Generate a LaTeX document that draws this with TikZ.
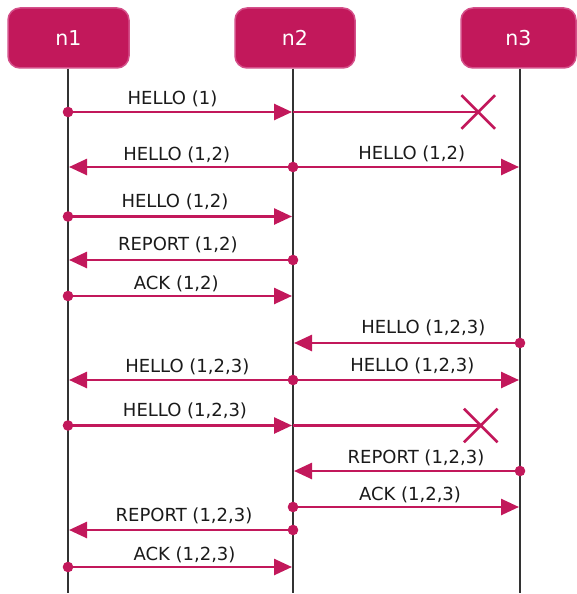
\documentclass[tikz,border=0pt]{standalone}
\usepackage{fontspec}
\setmainfont{DejaVu Sans}
\usetikzlibrary{arrows.meta,shapes.misc}
\definecolor{mag}{HTML}{C2185B}
\definecolor{magborder}{HTML}{D4508A}
\definecolor{lifecol}{HTML}{333333}
\definecolor{txt}{HTML}{1A1A1A}
\tikzset{
  actor/.style={draw=magborder, line width=1.5pt, fill=mag, rounded corners=12pt,
    minimum height=60pt, inner sep=0pt, text=white, font=\fontsize{20.5}{24}\selectfont},
  lifeline/.style={draw=lifecol, line width=1.3pt},
  msg/.style={draw=mag, line width=2.6pt, -{Triangle[length=18pt,width=16pt]}, shorten >=1pt},
  msgline/.style={draw=mag, line width=2.6pt},
  dotmark/.style={circle, fill=mag, inner sep=0pt, minimum size=10.6pt},
  lostmark/.style={cross out, draw=mag, line width=2.6pt, inner sep=0pt, minimum size=31pt},
  lbl/.style={anchor=base, inner sep=0pt, text=txt, font=\fontsize{18}{21}\selectfont}
}
\begin{document}
\begin{tikzpicture}[x=1pt,y=-1pt]
\useasboundingbox (0,0) rectangle (576,594);
% actors
\node[actor, minimum width=121pt] (n1) at (68.5,38) {n1};
\node[actor, minimum width=120pt] (n2) at (295,38) {n2};
\node[actor, minimum width=115pt] (n3) at (518.5,38) {n3};
% lifeline ends
\coordinate (e1) at (68,593);
\coordinate (e2) at (293,593);
\coordinate (e3) at (520,593);
\draw[lifeline] (n1.south -| e1) -- (e1);
\draw[lifeline] (n2.south -| e2) -- (e2);
\draw[lifeline] (n3.south -| e3) -- (e3);
% row points on lifelines
\foreach \i/\y in {1/112,2/167,3/216.5,4/260,5/296,6/343,7/380,8/425.5,9/471,10/507,11/530,12/567}{
  \coordinate (a\i) at (68,\y);
  \coordinate (b\i) at (293,\y);
  \coordinate (c\i) at (520,\y);
}
% lost-message marks
\node[lostmark] (x1) at (478.3,112) {};
\node[lostmark] (x2) at (480.7,425.5) {};

% 1
\draw[msgline] (b1) -- (x1.center);
\draw[msg] (a1) -- (b1);
\node[dotmark] (d1) at (a1) {};
\node[lbl] (l1) at (172.5,104) {HELLO (1)};
% 2
\draw[msg] (b2) -- (a2);
\draw[msg] (b2) -- (c2);
\node[dotmark] (d2) at (b2) {};
\node[lbl] (l2a) at (176.7,160) {HELLO (1,2)};
\node[lbl] (l2b) at (411.7,159.5) {HELLO (1,2)};
% 3
\draw[msg] (a3) -- (b3);
\node[dotmark] (d3) at (a3) {};
\node[lbl] (l3) at (175,207.3) {HELLO (1,2)};
% 4
\draw[msg] (b4) -- (a4);
\node[dotmark] (d4) at (b4) {};
\node[lbl] (l4) at (177.8,250.7) {REPORT (1,2)};
% 5
\draw[msg] (a5) -- (b5);
\node[dotmark] (d5) at (a5) {};
\node[lbl] (l5) at (176.3,289.3) {ACK (1,2)};
% 6
\draw[msg] (c6) -- (b6);
\node[dotmark] (d6) at (c6) {};
\node[lbl] (l6) at (423.3,333.3) {HELLO (1,2,3)};
% 7
\draw[msg] (b7) -- (a7);
\draw[msg] (b7) -- (c7);
\node[dotmark] (d7) at (b7) {};
\node[lbl] (l7a) at (187.3,372.3) {HELLO (1,2,3)};
\node[lbl] (l7b) at (412.3,371.7) {HELLO (1,2,3)};
% 8
\draw[msgline] (b8) -- (x2.center);
\draw[msg] (a8) -- (b8);
\node[dotmark] (d8) at (a8) {};
\node[lbl] (l8) at (185,416) {HELLO (1,2,3)};
% 9
\draw[msg] (c9) -- (b9);
\node[dotmark] (d9) at (c9) {};
\node[lbl] (l9) at (416,463.3) {REPORT (1,2,3)};
% 10
\draw[msg] (b10) -- (c10);
\node[dotmark] (d10) at (b10) {};
\node[lbl] (l10) at (410,500) {ACK (1,2,3)};
% 11
\draw[msg] (b11) -- (a11);
\node[dotmark] (d11) at (b11) {};
\node[lbl] (l11) at (184,521) {REPORT (1,2,3)};
% 12
\draw[msg] (a12) -- (b12);
\node[dotmark] (d12) at (a12) {};
\node[lbl] (l12) at (184.5,560.7) {ACK (1,2,3)};
\end{tikzpicture}
\end{document}
